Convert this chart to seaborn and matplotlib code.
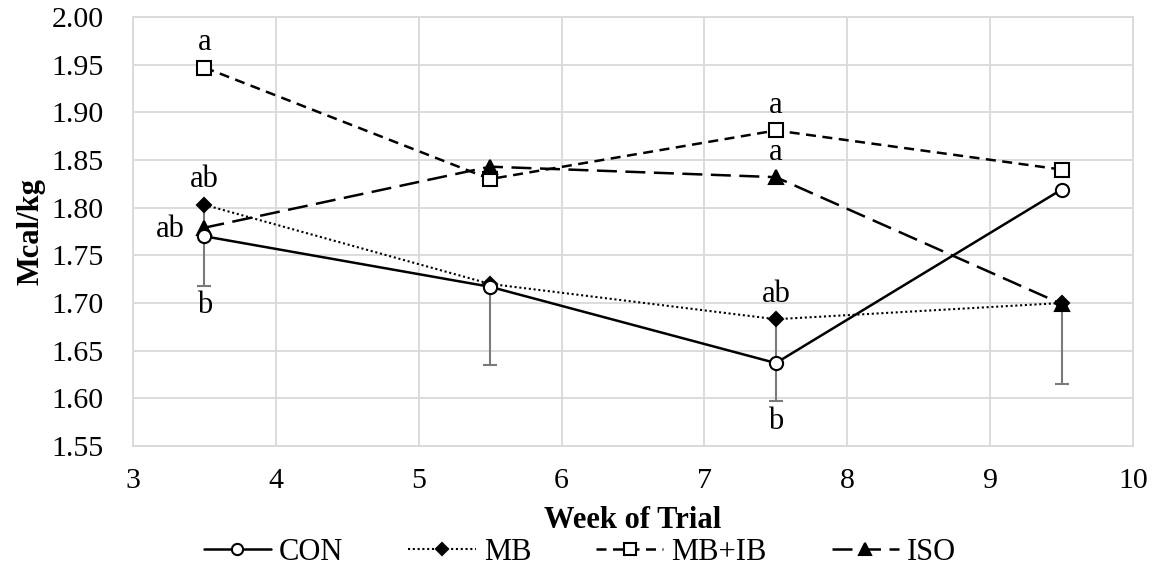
import matplotlib
matplotlib.use("Agg")
import matplotlib.pyplot as plt
import seaborn as sns
import pandas as pd
from matplotlib.lines import Line2D

weeks = [3.5, 5.5, 7.5, 9.5]
con = [1.770, 1.717, 1.637, 1.819]
mb = [1.803, 1.720, 1.683, 1.700]
mb_ib = [1.947, 1.830, 1.881, 1.840]
iso = [1.779, 1.843, 1.832, 1.699]
mb_sem = [0.085, 0.085, 0.086, 0.085]

series = ["CON", "MB", "MB+IB", "ISO"]
values = {"CON": con, "MB": mb, "MB+IB": mb_ib, "ISO": iso}

# significance letters: (week, value, text, placement)
letters = [
    (3.5, 1.947, "a", "above"),
    (3.5, 1.803, "ab", "above"),
    (3.5, 1.779, "ab", "left"),
    (3.5, 1.718, "b", "below"),
    (7.5, 1.881, "a", "above"),
    (7.5, 1.832, "a", "above"),
    (7.5, 1.683, "ab", "above"),
    (7.5, 1.597, "b", "below"),
]

df = pd.DataFrame(
    [(w, v, s) for s in series for w, v in zip(weeks, values[s])],
    columns=["week", "mcal", "group"],
)

sns.set_theme(style="white")
plt.rcParams["font.family"] = ["Liberation Serif", "DejaVu Serif"]
plt.rcParams["text.color"] = "black"
plt.rcParams["axes.labelcolor"] = "black"

FS = 22
styles = {
    "CON": dict(linestyle="-", lw=1.8, marker="o", mfc="white", ms=9.5, zorder=5),
    "MB": dict(linestyle=(0, (1, 1.3)), lw=1.5, marker="D", mfc="black", ms=7.5, zorder=4),
    "MB+IB": dict(linestyle=(0, (4, 2.6)), lw=1.8, marker="s", mfc="white", ms=9.5, zorder=4),
    "ISO": dict(linestyle=(0, (8, 3.4)), lw=1.8, marker="^", mfc="black", ms=10, zorder=4),
}

fig = plt.figure(figsize=(11.6, 5.69), dpi=100)
ax = fig.add_axes([133 / 1160, 1 - 446 / 569, 1000 / 1160, 429 / 569])

# pooled SEM shown below the MB means
ax.errorbar(weeks, mb, yerr=[mb_sem, [0] * 4], fmt="none", ecolor="#7a7a7a",
            elinewidth=1.5, capsize=4.7, capthick=1.5, zorder=2)

for s in series:
    st = styles[s]
    sub = df[df["group"] == s]
    sns.lineplot(data=sub, x="week", y="mcal", ax=ax, color="black",
                 linestyle=st["linestyle"], linewidth=st["lw"], marker=st["marker"],
                 markerfacecolor=st["mfc"], markeredgecolor="black",
                 markeredgewidth=1.5, markersize=st["ms"], zorder=st["zorder"],
                 legend=False)

for w, v, t, where in letters:
    if where == "above":
        ax.annotate(t, (w, v), xytext=(0, 12.5), textcoords="offset points",
                    ha="center", va="baseline", fontsize=FS)
    elif where == "below":
        ax.annotate(t, (w, v), xytext=(0, -4), textcoords="offset points",
                    ha="center", va="top", fontsize=FS)
    else:
        ax.annotate(t, (w, v), xytext=(-14, -6.5), textcoords="offset points",
                    ha="right", va="baseline", fontsize=FS)

ax.set_xlim(3, 10)
ax.set_ylim(1.55, 2.00)
ax.set_xticks(range(3, 11))
ax.set_yticks([1.55 + 0.05 * i for i in range(10)])
ax.set_yticklabels([f"{1.55 + 0.05 * i:.2f}" for i in range(10)])
ax.tick_params(axis="both", labelsize=21.5, length=0, colors="black")
ax.tick_params(axis="y", pad=21)
ax.tick_params(axis="x", pad=16)
ax.grid(True, color="#d9d9d9", linewidth=1.3)
ax.set_axisbelow(True)
for side in ["top", "right", "left", "bottom"]:
    ax.spines[side].set_color("#d9d9d9")
    ax.spines[side].set_linewidth(1.3)

ax.set_xlabel("Week of Trial", fontsize=FS, fontweight="bold")
ax.set_ylabel("Mcal/kg", fontsize=FS, fontweight="bold")
ax.xaxis.set_label_coords(0.5, -0.14)
ax.yaxis.set_label_coords(-0.088, 0.5)

handles = []
for s in series:
    st = styles[s]
    handles.append(Line2D([0], [0], color="black", linestyle=st["linestyle"],
                          linewidth=st["lw"], marker=st["marker"],
                          markerfacecolor=st["mfc"], markeredgecolor="black",
                          markeredgewidth=1.5, markersize=st["ms"] * 0.85))
fig.legend(handles, series, loc="center", bbox_to_anchor=(0.5, 17 / 569),
           ncol=4, frameon=False, fontsize=FS, handlelength=2.2, handletextpad=0.26,
           columnspacing=2.13, borderpad=0, borderaxespad=0)

fig.savefig("out.png", dpi=100)
